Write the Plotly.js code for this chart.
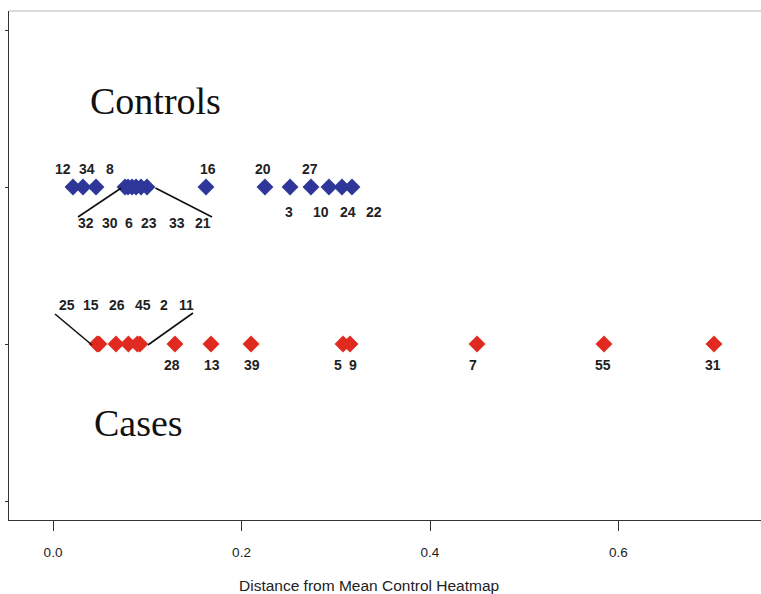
<!DOCTYPE html>
<html>
<head>
<meta charset="utf-8">
<script src="https://cdn.plot.ly/plotly-3.0.1.min.js"></script>
<style>html,body{margin:0;padding:0;background:#fff;}#chart{width:761px;height:594px;}</style>
</head>
<body>
<div id="chart"></div>
<script>
// ---- data ----
const controlIds  = ["12","34","8","32","30","6","23","33","21","16","20","3","27","10","24","22"];
const controlDist = [0.0212,0.0318,0.0456,0.0764,0.0796,0.0838,0.0881,0.0934,0.0997,0.1623,0.2249,0.2515,0.2737,0.2928,0.3066,0.3172];
const caseIds  = ["25","15","26","45","2","11","28","13","39","5","9","7","55","31"];
const caseDist = [0.0467,0.0488,0.0668,0.0800,0.0895,0.0922,0.1294,0.1676,0.2101,0.3077,0.3151,0.4499,0.5846,0.7013];
const groupNames = ["Controls","Cases"];
const xTickVals = [0.0,0.2,0.4,0.6];
const xTickText = ["0.0","0.2","0.4","0.6"];
const xTitle = "Distance from Mean Control Heatmap";

// ---- label placement (layout only) ----
const controlLabelX = [0.0106,0.0361,0.0605,0.0350,0.0605,0.0806,0.1019,0.1316,0.1592,0.1645,0.2228,0.2504,0.2727,0.2844,0.3130,0.3406];
const controlLabelShift = [18,18,18,-36,-36,-36,-36,-36,-36,18,18,-25,18,-25,-25,-25];
const caseLabelX = [0.0149,0.0403,0.0679,0.0955,0.1178,0.1411,0.1263,0.1687,0.2111,0.3024,0.3183,0.4456,0.5836,0.7003];
const caseLabelShift = [39,39,39,39,39,39,-21,-21,-21,-21,-21,-21,-21,-21];

const ROW_CTRL = 2, ROW_CASE = 1;
const labelFont = {family:"Liberation Sans, Arial, sans-serif", size:14, color:"#222"};

const traces = [
  {x: controlDist, y: controlDist.map(()=>ROW_CTRL), type:"scatter", mode:"markers",
   marker:{symbol:"diamond", size:13, color:"#2e3799"}, hoverinfo:"x", name:"Controls"},
  {x: caseDist, y: caseDist.map(()=>ROW_CASE), type:"scatter", mode:"markers",
   marker:{symbol:"diamond", size:13, color:"#e12a1f"}, hoverinfo:"x", name:"Cases"}
];

const annotations = [];
controlIds.forEach((id,i)=>annotations.push({x:controlLabelX[i], y:ROW_CTRL, xref:"x", yref:"y", text:"<b>"+id+"</b>",
  showarrow:false, yshift:controlLabelShift[i], font:labelFont}));
caseIds.forEach((id,i)=>annotations.push({x:caseLabelX[i], y:ROW_CASE, xref:"x", yref:"y", text:"<b>"+id+"</b>",
  showarrow:false, yshift:caseLabelShift[i], font:labelFont}));
annotations.push({x:0.109, y:2.545, xref:"x", yref:"y", text:groupNames[0], showarrow:false,
  font:{family:"Liberation Serif, Times New Roman, serif", size:38, color:"#111"}});
annotations.push({x:0.0902, y:0.50, xref:"x", yref:"y", text:groupNames[1], showarrow:false,
  font:{family:"Liberation Serif, Times New Roman, serif", size:38, color:"#111"}});
annotations.push({x:0.479, y:-0.128, xref:"paper", yref:"paper", text:xTitle, showarrow:false,
  yanchor:"middle", font:{family:"Liberation Sans, Arial, sans-serif", size:15.5, color:"#222"}});

// connector lines from bracketed clusters to their label rows
const pxPerUnit = 157;
function line(x0,y0,x1,y1){return {type:"line", xref:"x", yref:"y", x0:x0, y0:y0, x1:x1, y1:y1, line:{color:"#111", width:1.6}};}
const shapes = [
  line(controlDist[3]-0.004, ROW_CTRL-1/pxPerUnit, controlLabelX[3]-0.0085, ROW_CTRL-30/pxPerUnit),
  line(controlDist[8]+0.009, ROW_CTRL-1/pxPerUnit, controlLabelX[8]+0.0095, ROW_CTRL-30/pxPerUnit),
  line(caseDist[0]-0.0053, ROW_CASE-1/pxPerUnit, caseLabelX[0]-0.0128, ROW_CASE+30/pxPerUnit),
  line(caseDist[5]+0.0085, ROW_CASE-1/pxPerUnit, caseLabelX[5]+0.0074, ROW_CASE+31/pxPerUnit),
  {type:"line", xref:"paper", yref:"paper", x0:0, x1:1, y0:1, y1:1, line:{color:"#cfcfcf", width:1.5}}
];

const layout = {
  width:761, height:594,
  margin:{l:9, r:0, t:11, b:74, pad:0},
  paper_bgcolor:"#fff", plot_bgcolor:"#fff",
  showlegend:false,
  xaxis:{range:[-0.0467,0.7512], tickvals:xTickVals, ticktext:xTickText, ticks:"outside", ticklen:10,
    tickcolor:"#333", tickwidth:1, showline:true, linecolor:"#333", linewidth:1, showgrid:false, zeroline:false,
    ticklabelstandoff:10,
    tickfont:{family:"Liberation Sans, Arial, sans-serif", size:13.5, color:"#222"}},
  yaxis:{range:[-0.121,3.121], tickvals:[0,1,2,3], showticklabels:false, ticks:"outside", ticklen:3,
    tickcolor:"#333", showline:true, linecolor:"#333", linewidth:1.2, showgrid:false, zeroline:false},
  annotations:annotations,
  shapes:shapes
};
Plotly.newPlot("chart", traces, layout, {displayModeBar:false, staticPlot:true});
</script>
</body>
</html>
